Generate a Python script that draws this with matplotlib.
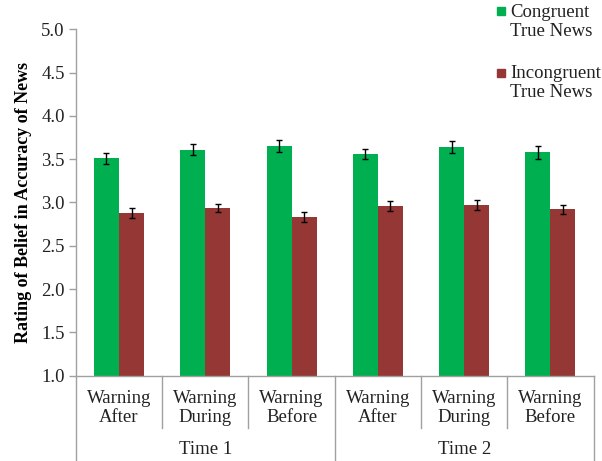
import numpy as np
import matplotlib
matplotlib.use('Agg')
from matplotlib import pyplot as plt
from matplotlib.transforms import blended_transform_factory
from matplotlib.lines import Line2D

conditions = ['Warning\nAfter', 'Warning\nDuring', 'Warning\nBefore',
              'Warning\nAfter', 'Warning\nDuring', 'Warning\nBefore']
times = ['Time 1', 'Time 2']
congruent = [3.51, 3.61, 3.65, 3.56, 3.64, 3.58]
congruent_err = [0.067, 0.067, 0.067, 0.063, 0.067, 0.078]
incongruent = [2.88, 2.94, 2.83, 2.96, 2.97, 2.92]
incongruent_err = [0.055, 0.045, 0.058, 0.06, 0.058, 0.05]
series_names = ['Congruent\nTrue News', 'Incongruent\nTrue News']

green = '#00B050'
red = '#953735'
grey = '#A0A0A0'
W, H = 602.0, 461.0

plt.rcParams['font.family'] = ['Liberation Serif', 'DejaVu Serif']

fig = plt.figure(figsize=(6.02, 4.61), dpi=100)
ax = fig.add_axes([0.126, 0.185, 0.86, 0.7515])

x = np.arange(len(conditions))
w = 0.29
ax.bar(x - w / 2, congruent, w, color=green, zorder=2)
ax.bar(x + w / 2, incongruent, w, color=red, zorder=2)
ax.errorbar(x - w / 2, congruent, yerr=congruent_err, fmt='none', ecolor='black',
            elinewidth=1, capsize=2.3, capthick=1, zorder=3)
ax.errorbar(x + w / 2, incongruent, yerr=incongruent_err, fmt='none', ecolor='black',
            elinewidth=1, capsize=2.3, capthick=1, zorder=3)

ax.set_ylim(1.0, 5.0)
ax.set_xlim(-0.5, len(conditions) - 0.5)
ax.set_yticks(np.arange(1.0, 5.01, 0.5))
ax.set_yticklabels(['%.1f' % v for v in np.arange(1.0, 5.01, 0.5)], fontsize=13.5, color='#222222')
ax.tick_params(axis='y', length=5, width=1, color=grey, pad=3)
ax.set_xticks([])

for s in ['top', 'right']:
    ax.spines[s].set_visible(False)
for s in ['left', 'bottom']:
    ax.spines[s].set_color(grey)
    ax.spines[s].set_linewidth(1)

ax.set_ylabel('Rating of Belief in Accuracy of News', fontsize=13, fontweight='bold', labelpad=7)

# two-level category axis
tr = blended_transform_factory(ax.transData, ax.transAxes)
for i in range(len(conditions) + 1):
    xs = i - 0.5
    bottom = -0.245 if i % 3 == 0 else -0.151
    ax.add_line(Line2D([xs, xs], [0, bottom], transform=tr, color=grey, lw=1, clip_on=False))
for i, lab in enumerate(conditions):
    ax.text(i, -0.093, lab, transform=tr, ha='center', va='center', fontsize=13.5,
            linespacing=1.1, color='#222222')
for j, t in enumerate(times):
    ax.text(3 * j + 1, -0.214, t, transform=tr, ha='center', va='center', fontsize=13.5, color='#222222')

# legend drawn by hand at the top right
leg_y = [22, 83]
marker_y = [11, 73]
for name, col, ty, my in zip(series_names, [green, red], leg_y, marker_y):
    fig.add_artist(Line2D([501 / W], [1 - my / H], marker='s', markersize=5.5, color=col,
                          transform=fig.transFigure))
    fig.text(510 / W, 1 - ty / H, name, ha='left', va='center', fontsize=13.5,
             linespacing=1.1, color='#222222')

fig.savefig('out.png', dpi=100)
